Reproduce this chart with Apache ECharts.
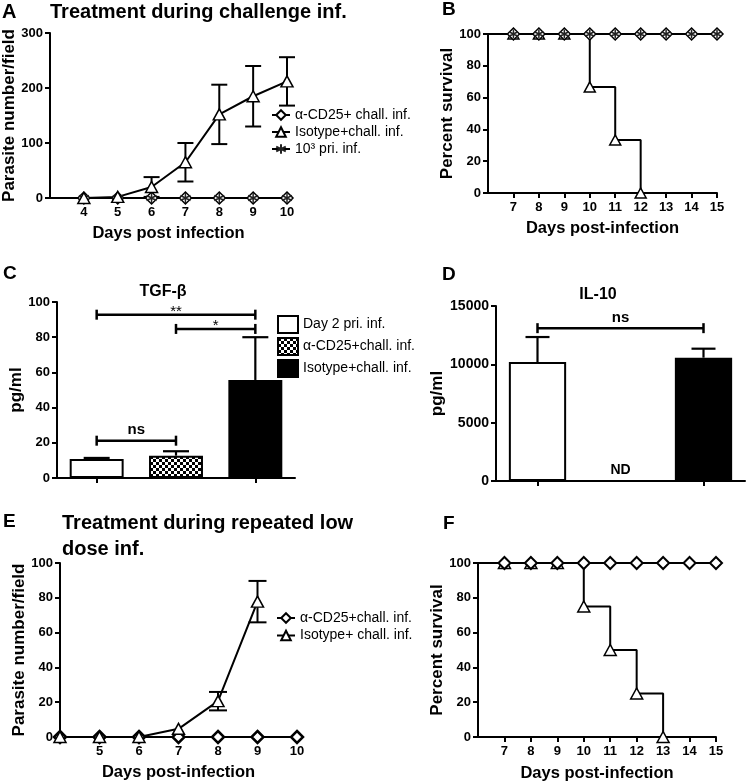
<!DOCTYPE html>
<html><head><meta charset="utf-8">
<script src="https://cdn.jsdelivr.net/npm/echarts@6/dist/echarts.min.js"></script>
<style>html,body{margin:0;padding:0;background:#fff}#c{width:750px;height:783px}</style>
</head><body><div id="c"></div>
<script>
// ---------- DATA ----------
// Panel A: parasite number/field, treatment during challenge infection
const daysA = [4, 5, 6, 7, 8, 9, 10];
const cd25A = [0, 0, 0, 0, 0, 0, 0];
const isoA = [0, 2, 20, 65, 152, 185, 212];
const isoAErr = [0, 0, 18, 35, 54, 55, 44];
const priA = [0, 0, 0, 0, 0, 0, 0];
// Panel B: percent survival
const daysB = [0, 7, 8, 9, 10, 11, 12, 13, 14, 15];
const cd25B = [100, 100, 100, 100, 100, 100, 100, 100, 100, 100];
const priB = [100, 100, 100, 100, 100, 100, 100, 100, 100, 100];
const isoDaysB = [0, 7, 8, 9, 10, 11, 12];
const isoB = [100, 100, 100, 100, 66.7, 33.3, 0];
// Panel C: TGF-beta
const catsC = ['Day 2 pri. inf.', 'α-CD25+chall. inf.', 'Isotype+chall. inf.'];
const meanC = [10.8, 12.7, 55.7];
const errC = [0.6, 2.5, 24.3];
const sigFromC = [0, 1, 0];
const sigToC = [2, 2, 1];
const sigYC = [92.8, 84.7, 21.2];
const sigTextC = ['**', '*', 'ns'];
// Panel D: IL-10
const catsD = ['Day 2 pri. inf.', 'α-CD25+chall. inf.', 'Isotype+chall. inf.'];
const meanD = [10200, null, 10571];
const errD = [2140, null, 770];
const sigFromD = [0];
const sigToD = [2];
const sigYD = [13100];
const sigTextD = ['ns'];
const ndIndexD = [1];
const ndTextD = ['ND'];
// Panel E: repeated low dose
const daysE = [4, 5, 6, 7, 8, 9, 10];
const cd25E = [0, 0, 0, 0, 0, 0, 0];
const isoDaysE = [4, 5, 6, 7, 8, 9];
const isoE = [0, 0, 0, 4.7, 20.6, 77.8];
const isoEErr = [0, 0, 0, 0, 5.3, 11.9];
// Panel F: percent survival
const daysF = [0, 7, 8, 9, 10, 11, 12, 13, 14, 15];
const cd25F = [100, 100, 100, 100, 100, 100, 100, 100, 100, 100];
const isoDaysF = [0, 7, 8, 9, 10, 11, 12, 13];
const isoF = [100, 100, 100, 100, 75, 50, 25, 0];

const legendLabels = {
  A1: 'α-CD25+ chall. inf.', A2: 'Isotype+chall. inf.', A3: '10³ pri. inf.',
  C1: catsC[0], C2: catsC[1], C3: catsC[2],
  E1: 'α-CD25+chall. inf.', E2: 'Isotype+ chall. inf.'
};

// ---------- STYLE HELPERS ----------
const FF = '"Liberation Sans", Arial, Helvetica, sans-serif';
const BLK = '#000';
const STAR = 'path://M0,-10L0,10M-8.66,-5L8.66,5M-8.66,5L8.66,-5';

function yAx(gi, min, max, interval, name, nameGap, labelSize) {
  return {
    type: 'value', gridIndex: gi, min, max, interval, name,
    nameLocation: 'middle', nameGap,
    nameTextStyle: { fontFamily: FF, fontWeight: 'bold', fontSize: 17, color: BLK },
    axisLine: { show: true, lineStyle: { color: BLK, width: 2 } },
    axisTick: { show: true, length: 5, lineStyle: { color: BLK, width: 2 } },
    axisLabel: { color: BLK, fontWeight: 'bold', fontSize: labelSize || 13, fontFamily: FF, margin: 7,
                 formatter: v => String(v) },
    splitLine: { show: false }
  };
}
function xVal(gi, min, max, name, nameGap) {
  return {
    type: 'value', gridIndex: gi, min, max, interval: 1, name,
    nameLocation: 'middle', nameGap,
    nameTextStyle: { fontFamily: FF, fontWeight: 'bold', fontSize: 16.5, color: BLK },
    axisLine: { show: true, onZero: false, lineStyle: { color: BLK, width: 2 } },
    axisTick: { show: true, length: 5, lineStyle: { color: BLK, width: 2 } },
    axisLabel: { color: BLK, fontWeight: 'bold', fontSize: 13, fontFamily: FF, margin: 8, showMinLabel: false },
    splitLine: { show: false }
  };
}
function xCat(gi, data) {
  return {
    type: 'category', gridIndex: gi, data,
    axisLine: { show: true, lineStyle: { color: BLK, width: 2 } },
    axisTick: { show: true, alignWithLabel: true, length: 5, lineStyle: { color: BLK, width: 2 } },
    axisLabel: { show: false }, splitLine: { show: false }
  };
}
function pairs(xs, ys) { return xs.map((x, i) => [x, ys[i]]); }
function survData(xs, ys) {
  return xs.map((x, i) => (i === 0 ? { value: [x, ys[i]], symbol: 'none' } : [x, ys[i]]));
}
function errRender(both, capHalf, lw) {
  return function (params, api) {
    const x = api.value(0), m = api.value(1), e = api.value(2);
    if (!(e > 0)) return null;
    const top = api.coord([x, m + e]);
    const base = api.coord([x, both ? m - e : m]);
    const st = { stroke: BLK, lineWidth: lw };
    const ch = [
      { type: 'line', shape: { x1: top[0], y1: top[1], x2: base[0], y2: base[1] }, style: st },
      { type: 'line', shape: { x1: top[0] - capHalf, y1: top[1], x2: top[0] + capHalf, y2: top[1] }, style: st }
    ];
    if (both) ch.push({ type: 'line', shape: { x1: base[0] - capHalf, y1: base[1], x2: base[0] + capHalf, y2: base[1] }, style: st });
    return { type: 'group', children: ch };
  };
}
function sigRender(texts, fontSize) {
  return function (params, api) {
    const y = api.value(2);
    const a = api.coord([api.value(0), y]);
    const b = api.coord([api.value(1), y]);
    const st = { stroke: BLK, lineWidth: 2.5 };
    const h = 5;
    const t = texts[params.dataIndex];
    const isNs = t === 'ns';
    const textEl = isNs
      ? { type: 'text', x: (a[0] + b[0]) / 2, y: a[1] - 3,
          style: { text: t, align: 'center', verticalAlign: 'bottom', textAlign: 'center', textVerticalAlign: 'bottom',
                   font: 'bold ' + fontSize + 'px ' + FF, fill: BLK } }
      : { type: 'text', x: (a[0] + b[0]) / 2, y: a[1] - 3,
          style: { text: t, align: 'center', verticalAlign: 'middle', textAlign: 'center', textVerticalAlign: 'middle',
                   font: '15px ' + FF, fill: BLK } };
    return {
      type: 'group', children: [
        { type: 'line', shape: { x1: a[0], y1: a[1], x2: b[0], y2: b[1] }, style: st },
        { type: 'line', shape: { x1: a[0], y1: a[1] - h, x2: a[0], y2: a[1] + h }, style: st },
        { type: 'line', shape: { x1: b[0], y1: b[1] - h, x2: b[0], y2: b[1] + h }, style: st },
        textEl
      ]
    };
  };
}
function ndRender(texts) {
  return function (params, api) {
    const p = api.coord([api.value(0), api.value(1)]);
    return { type: 'text', x: p[0], y: p[1] - 11,
      style: { text: texts[params.dataIndex], align: 'center', verticalAlign: 'middle',
               textAlign: 'center', textVerticalAlign: 'middle',
               font: 'bold 14px ' + FF, fill: BLK } };
  };
}

// checkered pattern
const pc = document.createElement('canvas');
pc.width = 6; pc.height = 6;
const pctx = pc.getContext('2d');
pctx.fillStyle = '#fff'; pctx.fillRect(0, 0, 6, 6);
pctx.fillStyle = '#000'; pctx.fillRect(0, 0, 3, 3); pctx.fillRect(3, 3, 3, 3);
const checker = { image: pc, repeat: 'repeat' };

const lineStyle = { color: BLK, width: 2 };
const diamondA = { color: '#fff', borderColor: BLK, borderWidth: 1.5 };
const triStyle = { color: '#fff', borderColor: BLK, borderWidth: 1.5 };
const starStyle = { color: 'transparent', borderColor: '#222', borderWidth: 1.5 };

const grids = [
  { left: 50, top: 33, width: 237, height: 165 },
  { left: 488, top: 34, width: 229, height: 159 },
  { left: 57, top: 302, width: 238, height: 176 },
  { left: 496, top: 306, width: 249, height: 175 },
  { left: 60, top: 563, width: 237, height: 174 },
  { left: 478, top: 563, width: 238, height: 174 }
].map(g => Object.assign({ outerBoundsMode: 'none', containLabel: false }, g));

const legendText = { fontFamily: FF, fontSize: 14, color: BLK, lineHeight: 14 };

const option = {
  animation: false,
  backgroundColor: '#fff',
  grid: grids,
  xAxis: [
    xVal(0, 3, 10, 'Days post infection', 27),
    xVal(1, 6, 15, 'Days post-infection', 27),
    xCat(2, catsC),
    xCat(3, catsD),
    xVal(4, 4, 10, 'Days post-infection', 27),
    xVal(5, 6, 15, 'Days post-infection', 28)
  ],
  yAxis: [
    yAx(0, 0, 300, 100, 'Parasite number/field', 30),
    yAx(1, 0, 100, 20, 'Percent survival', 30),
    yAx(2, 0, 100, 20, 'pg/ml', 30),
    yAx(3, 0, 15000, 5000, 'pg/ml', 39, 14),
    yAx(4, 0, 100, 20, 'Parasite number/field', 27),
    yAx(5, 0, 100, 20, 'Percent survival', 21)
  ],
  legend: [
    { data: ['A1', 'A2', 'A3'], orient: 'vertical', left: 271, top: 108, padding: 0,
      itemWidth: 18, itemHeight: 12, itemGap: 3, selectedMode: false,
      formatter: n => legendLabels[n], textStyle: legendText },
    { data: ['C1', 'C2', 'C3'], orient: 'vertical', left: 277, top: 315, padding: 0,
      icon: 'rect', itemWidth: 20, itemHeight: 17, itemGap: 3, selectedMode: false,
      formatter: n => legendLabels[n], textStyle: legendText },
    { data: ['E1', 'E2'], orient: 'vertical', left: 276, top: 611, padding: 0,
      itemWidth: 18, itemHeight: 12, itemGap: 3.5, selectedMode: false,
      formatter: n => legendLabels[n], textStyle: legendText }
  ],
  graphic: [
    { type: 'text', x: 2, y: 12, style: { text: 'A', font: 'bold 20px ' + FF, fill: BLK, verticalAlign: 'middle', textVerticalAlign: 'middle' } },
    { type: 'text', x: 50, y: 12, style: { text: 'Treatment during challenge inf.', font: 'bold 20px ' + FF, fill: BLK, verticalAlign: 'middle', textVerticalAlign: 'middle' } },
    { type: 'text', x: 442, y: 10, style: { text: 'B', font: 'bold 19px ' + FF, fill: BLK, verticalAlign: 'middle', textVerticalAlign: 'middle' } },
    { type: 'text', x: 3, y: 274, style: { text: 'C', font: 'bold 19px ' + FF, fill: BLK, verticalAlign: 'middle', textVerticalAlign: 'middle' } },
    { type: 'text', x: 163, y: 292, style: { text: 'TGF-β', font: 'bold 16px ' + FF, fill: BLK, align: 'center', textAlign: 'center', verticalAlign: 'middle', textVerticalAlign: 'middle' } },
    { type: 'text', x: 442, y: 275, style: { text: 'D', font: 'bold 19px ' + FF, fill: BLK, verticalAlign: 'middle', textVerticalAlign: 'middle' } },
    { type: 'text', x: 598, y: 295, style: { text: 'IL-10', font: 'bold 16px ' + FF, fill: BLK, align: 'center', textAlign: 'center', verticalAlign: 'middle', textVerticalAlign: 'middle' } },
    { type: 'text', x: 3, y: 522, style: { text: 'E', font: 'bold 19px ' + FF, fill: BLK, verticalAlign: 'middle', textVerticalAlign: 'middle' } },
    { type: 'text', x: 62, y: 523, style: { text: 'Treatment during repeated low', font: 'bold 20px ' + FF, fill: BLK, verticalAlign: 'middle', textVerticalAlign: 'middle' } },
    { type: 'text', x: 62, y: 549, style: { text: 'dose inf.', font: 'bold 20px ' + FF, fill: BLK, verticalAlign: 'middle', textVerticalAlign: 'middle' } },
    { type: 'text', x: 443, y: 524, style: { text: 'F', font: 'bold 19px ' + FF, fill: BLK, verticalAlign: 'middle', textVerticalAlign: 'middle' } }
  ],
  series: [
    // ----- A -----
    { type: 'custom', xAxisIndex: 0, yAxisIndex: 0, data: daysA.map((d, i) => [d, isoA[i], isoAErr[i]]),
      encode: { x: 0, y: 1 }, renderItem: errRender(true, 8, 2), z: 1 },
    { type: 'line', name: 'A1', xAxisIndex: 0, yAxisIndex: 0, data: pairs(daysA, cd25A),
      symbol: 'diamond', symbolSize: 12, itemStyle: diamondA, lineStyle },
    { type: 'line', name: 'A3', xAxisIndex: 0, yAxisIndex: 0, data: pairs(daysA, priA),
      symbol: STAR, symbolSize: 10, itemStyle: starStyle, lineStyle },
    { type: 'line', name: 'A2', xAxisIndex: 0, yAxisIndex: 0, data: pairs(daysA, isoA),
      symbol: 'triangle', symbolSize: [12, 11], itemStyle: triStyle, lineStyle },
    // ----- B -----
    { type: 'line', name: 'A2', xAxisIndex: 1, yAxisIndex: 1, data: survData(isoDaysB, isoB), step: 'end',
      symbol: 'triangle', symbolSize: [11, 10], itemStyle: triStyle, lineStyle },
    { type: 'line', name: 'A1', xAxisIndex: 1, yAxisIndex: 1, data: survData(daysB, cd25B), step: 'end',
      symbol: 'diamond', symbolSize: 12, itemStyle: diamondA, lineStyle },
    { type: 'line', name: 'A3', xAxisIndex: 1, yAxisIndex: 1, data: survData(daysB, priB), step: 'end',
      symbol: STAR, symbolSize: 9, itemStyle: starStyle, lineStyle },
    // ----- C -----
    { type: 'bar', name: 'C1', xAxisIndex: 2, yAxisIndex: 2, barWidth: '68%', barGap: '-100%',
      data: meanC.map((v, i) => (i === 0 ? v : null)), itemStyle: { color: '#fff', borderColor: BLK, borderWidth: 2 } },
    { type: 'bar', name: 'C2', xAxisIndex: 2, yAxisIndex: 2, barWidth: '68%', barGap: '-100%',
      data: meanC.map((v, i) => (i === 1 ? v : null)), itemStyle: { color: checker, borderColor: BLK, borderWidth: 2 } },
    { type: 'bar', name: 'C3', xAxisIndex: 2, yAxisIndex: 2, barWidth: '68%', barGap: '-100%',
      data: meanC.map((v, i) => (i === 2 ? v : null)), itemStyle: { color: BLK, borderColor: BLK, borderWidth: 2 } },
    { type: 'custom', xAxisIndex: 2, yAxisIndex: 2, data: meanC.map((m, i) => [i, m, errC[i]]),
      encode: { x: 0, y: 1 }, renderItem: errRender(false, 13, 2.2), z: 5 },
    { type: 'custom', xAxisIndex: 2, yAxisIndex: 2, data: sigYC.map((y, i) => [sigFromC[i], sigToC[i], y]),
      encode: { x: 0, y: 2 }, renderItem: sigRender(sigTextC, 15), z: 5 },
    // ----- D -----
    { type: 'bar', name: 'D', xAxisIndex: 3, yAxisIndex: 3, barWidth: '69%',
      data: meanD.map((v, i) => ({ value: v, itemStyle: { color: i === 0 ? '#fff' : BLK } })),
      itemStyle: { borderColor: BLK, borderWidth: 2 } },
    { type: 'custom', xAxisIndex: 3, yAxisIndex: 3, data: meanD.map((m, i) => [i, m, errD[i]]),
      encode: { x: 0, y: 1 }, renderItem: errRender(false, 12, 2.2), z: 5 },
    { type: 'custom', xAxisIndex: 3, yAxisIndex: 3, data: sigYD.map((y, i) => [sigFromD[i], sigToD[i], y]),
      encode: { x: 0, y: 2 }, renderItem: sigRender(sigTextD, 15), z: 5 },
    { type: 'custom', xAxisIndex: 3, yAxisIndex: 3, data: ndIndexD.map(i => [i, 0]),
      encode: { x: 0, y: 1 }, renderItem: ndRender(ndTextD), z: 5 },
    // ----- E -----
    { type: 'custom', xAxisIndex: 4, yAxisIndex: 4, data: isoDaysE.map((d, i) => [d, isoE[i], isoEErr[i]]),
      encode: { x: 0, y: 1 }, renderItem: errRender(true, 9, 2), z: 1 },
    { type: 'line', name: 'E1', xAxisIndex: 4, yAxisIndex: 4, data: pairs(daysE, cd25E),
      symbol: 'diamond', symbolSize: 12, itemStyle: { color: '#fff', borderColor: BLK, borderWidth: 2.5 }, lineStyle },
    { type: 'line', name: 'E2', xAxisIndex: 4, yAxisIndex: 4, data: pairs(isoDaysE, isoE),
      symbol: 'triangle', symbolSize: [12, 11], itemStyle: triStyle, lineStyle },
    // ----- F -----
    { type: 'line', name: 'E2', xAxisIndex: 5, yAxisIndex: 5, data: survData(isoDaysF, isoF), step: 'end',
      symbol: 'triangle', symbolSize: [12, 11], itemStyle: triStyle, lineStyle },
    { type: 'line', name: 'E1', xAxisIndex: 5, yAxisIndex: 5, data: survData(daysF, cd25F), step: 'end',
      symbol: 'diamond', symbolSize: 12, itemStyle: { color: '#fff', borderColor: BLK, borderWidth: 2 }, lineStyle }
  ]
};

const chart = echarts.init(document.getElementById('c'), null, { renderer: 'canvas' });
chart.setOption(option);
</script>
</body></html>
